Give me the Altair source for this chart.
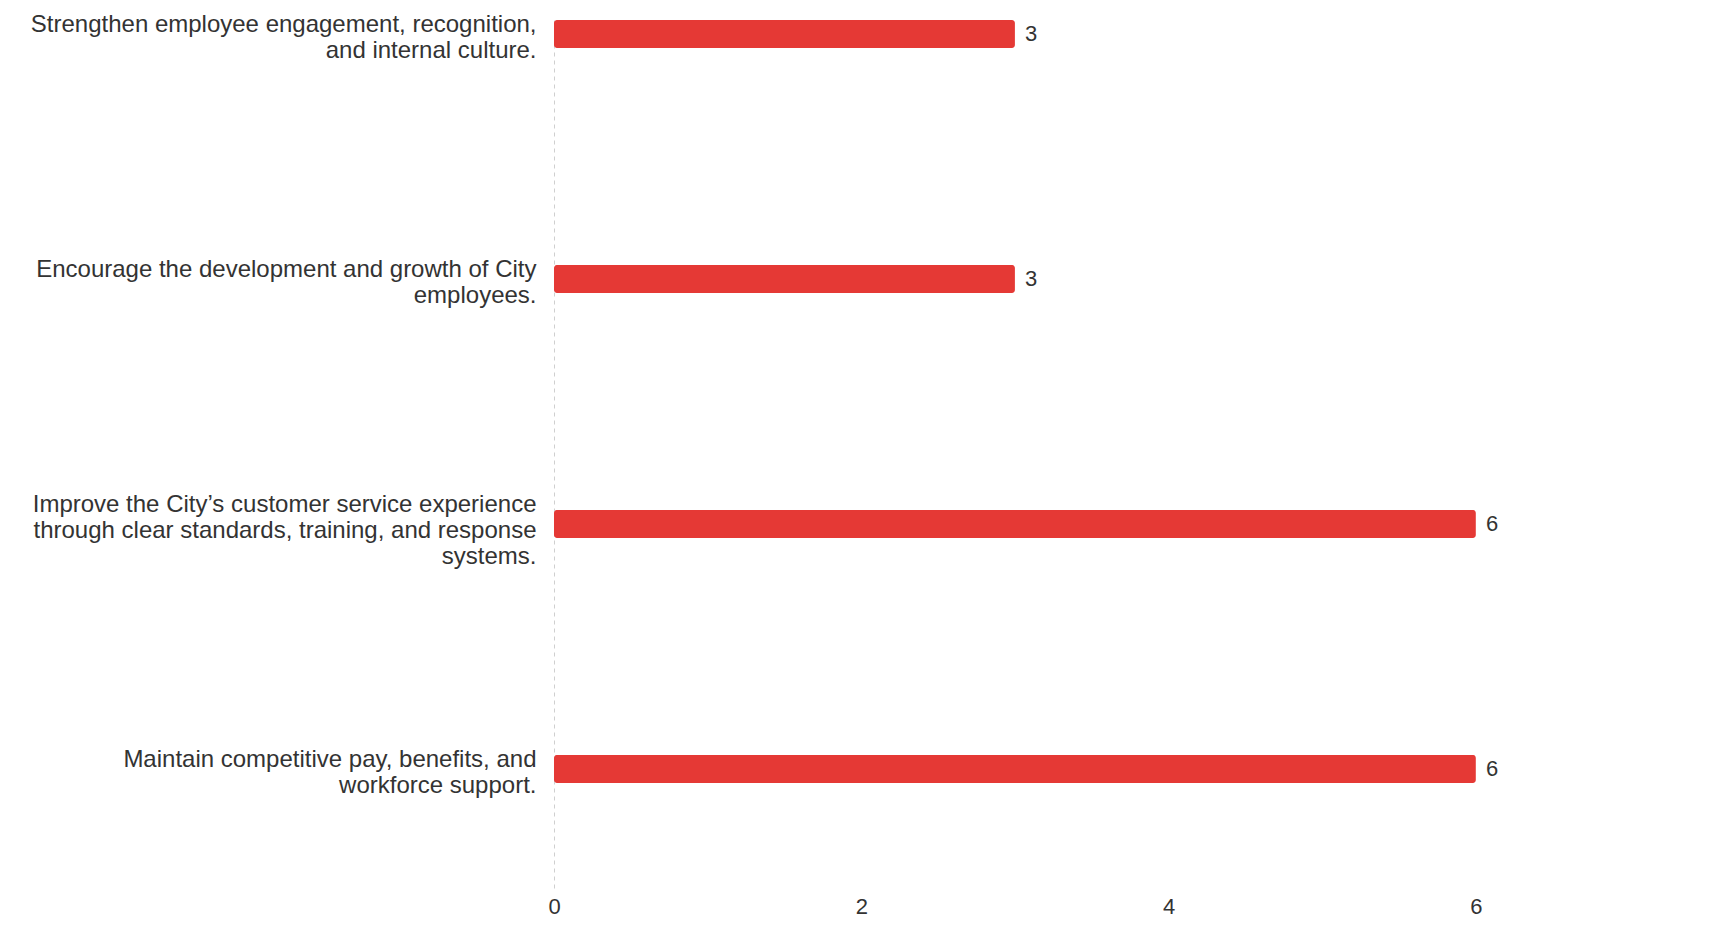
import altair as alt
import pandas as pd

categories = [
    "Strengthen employee engagement, recognition,\nand internal culture.",
    "Encourage the development and growth of City\nemployees.",
    "Improve the City\u2019s customer service experience\nthrough clear standards, training, and response\nsystems.",
    "Maintain competitive pay, benefits, and\nworkforce support.",
]
values = [3, 3, 6, 6]
x_ticks = [0, 2, 4, 6]

df = pd.DataFrame({"goal": categories, "count": values})

FONT = "Liberation Sans"
TEXT = "#333333"

y_enc = alt.Y(
    "goal:N",
    sort=categories,
    title=None,
    scale=alt.Scale(paddingInner=0.886, paddingOuter=0.2186, align=0),
    axis=alt.Axis(
        labelExpr="split(datum.label, '\\n')",
        labelOffset=alt.ExprRef("-(length(split(datum.value, '\\n')) - 1) * 10 + 1"),
        labelFont=FONT,
        labelFontSize=24,
        labelLineHeight=26,
        labelColor=TEXT,
        labelLimit=800,
        labelPadding=18,
        ticks=False,
        domain=True,
        domainColor="#cfcfcf",
        domainDash=[4, 4],
        domainWidth=1,
        grid=False,
    ),
)

x_enc = alt.X(
    "count:Q",
    title=None,
    scale=alt.Scale(domain=[0, 7.4], nice=False),
    axis=alt.Axis(
        values=x_ticks,
        labelFont=FONT,
        labelFontSize=22,
        labelColor=TEXT,
        labelPadding=6,
        labelFlush=False,
        ticks=False,
        domain=False,
        grid=False,
    ),
)

base = alt.Chart(df).encode(y=y_enc, x=x_enc)

bars = base.mark_bar(color="#e53935", cornerRadius=3)

labels = base.mark_text(
    align="left",
    baseline="middle",
    dx=10,
    font=FONT,
    fontSize=22,
    color=TEXT,
).encode(text=alt.Text("count:Q"))

chart = (
    (bars + labels)
    .properties(
        width=1137,
        height=870,
        autosize=alt.AutoSizeParams(type="none"),
        padding={"left": 546, "top": 12, "right": 10, "bottom": 40},
        background="white",
    )
    .configure_view(stroke=None)
)

chart.save("out.html", embed_options={"renderer": "svg", "actions": False})
